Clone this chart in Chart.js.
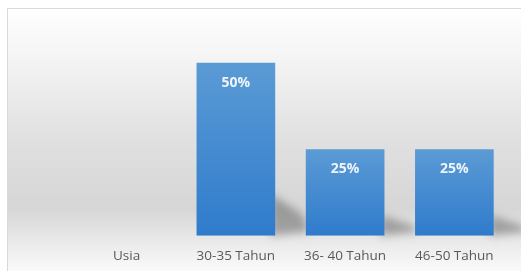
<!DOCTYPE html>
<html>
<head>
<meta charset="utf-8">
<script src="https://cdn.jsdelivr.net/npm/chart.js@4"></script>
<style>
  html, body { margin: 0; padding: 0; background: #fff; }
  #wrap { width: 521px; height: 271px; }
</style>
</head>
<body>
<div id="wrap"><canvas id="grafico" width="521" height="271"></canvas></div>
<script>
// dati
const kategori = ["Usia", "30-35 Tahun", "36- 40 Tahun", "46-50 Tahun"];
const persen = [null, 50, 25, 25];
const yMax = 60;

// sfondo con bordo + gradiente grigio
const sfondo = {
  id: "sfondo",
  beforeDraw(chart) {
    const c = chart.ctx;
    c.save();
    c.fillStyle = "#ffffff";
    c.fillRect(0, 0, chart.width, chart.height);
    const g = c.createLinearGradient(0, 8, 0, 271);
    g.addColorStop(0, "#ffffff");
    g.addColorStop(0.18, "#f5f5f5");
    g.addColorStop(0.5, "#e0e0e0");
    g.addColorStop(0.76, "#d6d6d6");
    g.addColorStop(0.9, "#ebebeb");
    g.addColorStop(1, "#fafafa");
    c.fillStyle = g;
    c.fillRect(8, 9, chart.width - 8, chart.height - 9);
    c.strokeStyle = "#d9d9d9";
    c.lineWidth = 1;
    c.beginPath();
    c.moveTo(7.5, chart.height);
    c.lineTo(7.5, 8.5);
    c.lineTo(chart.width, 8.5);
    c.stroke();
    c.restore();
  },
  beforeDatasetsDraw(chart) {
    // ombra dietro le barre
    const c = chart.ctx;
    const meta = chart.getDatasetMeta(0);
    c.save();
    c.filter = "blur(4px)";
    meta.data.forEach((bar, i) => {
      if (persen[i] == null) return;
      const r = bar.x + bar.width / 2;
      const b = bar.base;
      const h = (b - bar.y) * 0.24;
      c.fillStyle = "rgba(60,60,60,0.4)";
      c.beginPath();
      c.moveTo(r - 4, b);
      c.lineTo(r - 4, b - h);
      c.lineTo(r + 28, b - h * 0.5);
      c.lineTo(r + 34, b - 4);
      c.closePath();
      c.fill();
    });
    c.restore();
  },
  afterDatasetsDraw(chart) {
    const c = chart.ctx;
    const meta = chart.getDatasetMeta(0);
    c.save();
    c.fillStyle = "#eef4fa";
    c.font = "bold 14px 'Open Sans'";
    c.textAlign = "center";
    c.textBaseline = "middle";
    meta.data.forEach((bar, i) => {
      if (persen[i] == null) return;
      c.fillText(persen[i] + "%", bar.x, bar.y + 20);
    });
    c.restore();
  }
};

function coloreBarra(ctx) {
  const chart = ctx.chart;
  const v = ctx.raw;
  if (!chart.chartArea || v == null) return "#4a8fd6";
  const y = chart.scales.y;
  const top = y.getPixelForValue(v);
  const bot = y.getPixelForValue(0);
  const g = chart.ctx.createLinearGradient(0, top, 0, bot);
  g.addColorStop(0, "#5b9bd5");
  g.addColorStop(1, "#2f7bcc");
  return g;
}

new Chart(document.getElementById("grafico"), {
  type: "bar",
  data: {
    labels: kategori,
    datasets: [{
      data: persen,
      backgroundColor: coloreBarra,
      borderWidth: 0
    }]
  },
  plugins: [sfondo],
  options: {
    responsive: false,
    animation: false,
    layout: { padding: { left: 72, right: 12, top: 28, bottom: -5 } },
    plugins: { legend: { display: false }, tooltip: { enabled: false } },
    scales: {
      x: {
        grid: { display: false, drawTicks: false },
        border: { display: false },
        categoryPercentage: 0.72,
        barPercentage: 1,
        ticks: { color: "#595959", font: { family: "'Open Sans'", size: 13.5 }, padding: 12, maxRotation: 0 }
      },
      y: {
        display: false,
        min: 0,
        max: yMax
      }
    }
  }
});
</script>
</body>
</html>
